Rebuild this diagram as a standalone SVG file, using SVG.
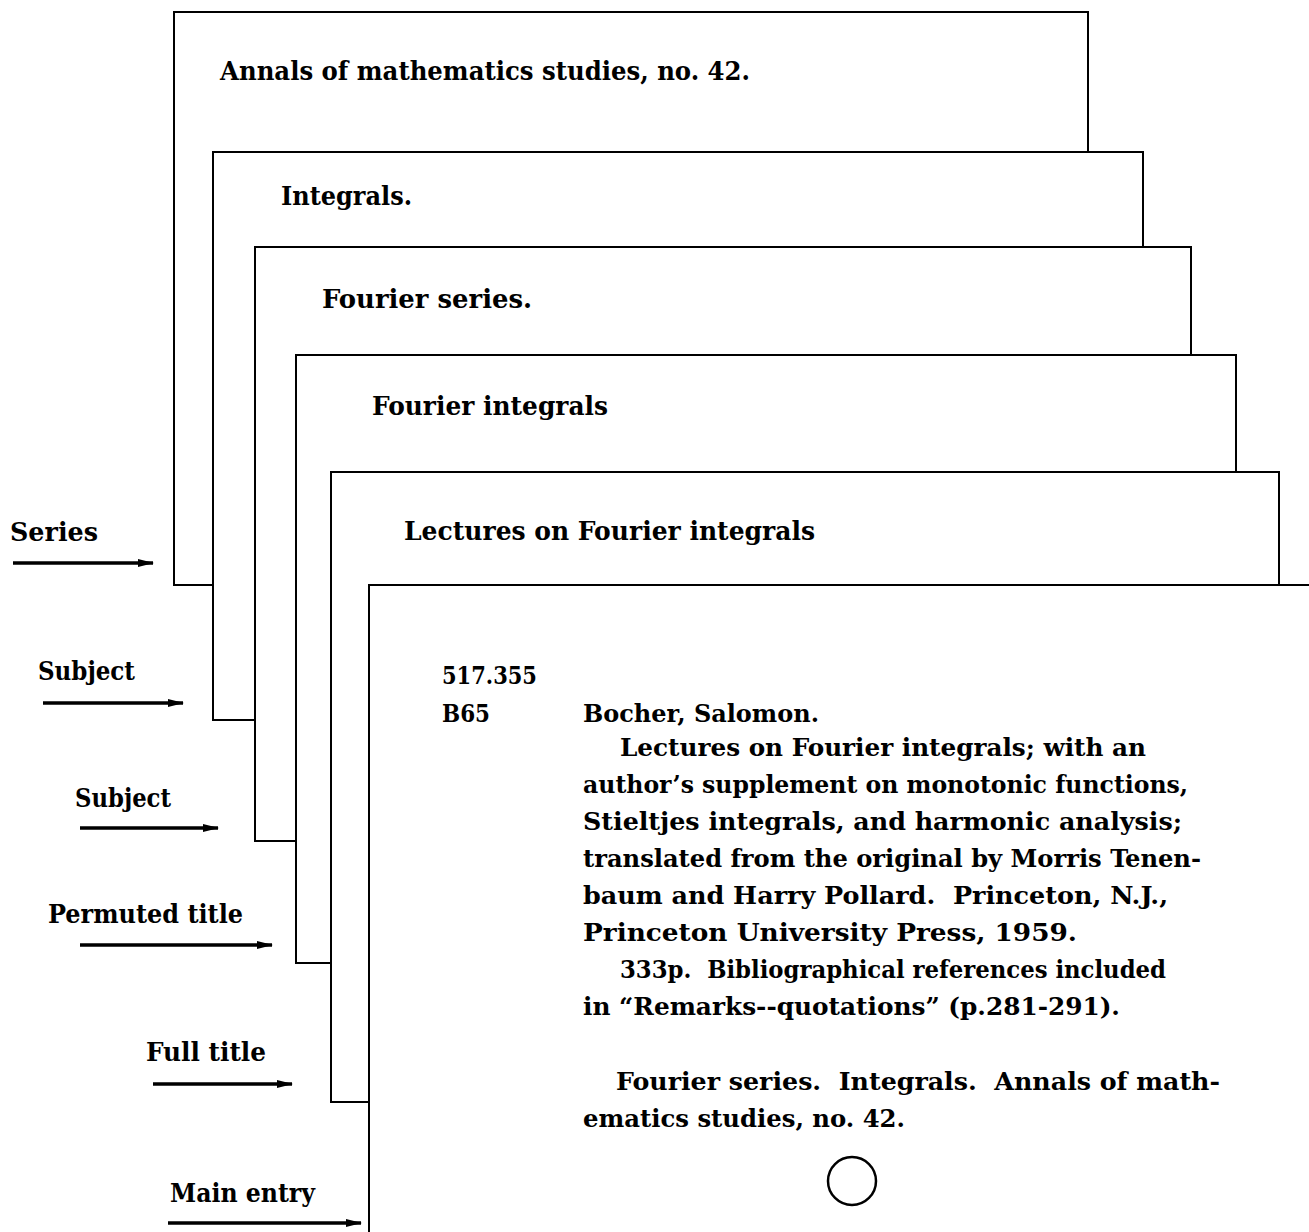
<svg xmlns="http://www.w3.org/2000/svg" width="1309" height="1232" viewBox="0 0 1309 1232">
<defs>
<marker id="ah" markerWidth="16" markerHeight="10" refX="15" refY="5" orient="auto" markerUnits="userSpaceOnUse">
<path d="M0,1 L16,5 L0,9 Z" fill="#000"/>
</marker>
<style>
.card{fill:#fff;stroke:#000;stroke-width:2}
.t{font-family:"DejaVu Serif Condensed","DejaVu Serif","Liberation Serif",serif;font-size:26px;fill:#000}
.h{font-weight:bold}
.b{font-weight:bold;font-size:25px}
.lbl{font-family:"DejaVu Serif Condensed","DejaVu Serif","Liberation Serif",serif;font-size:26px;font-weight:bold;fill:#000}
.arr{stroke:#000;stroke-width:3.5;fill:none;marker-end:url(#ah)}
</style>
</defs>
<rect width="1309" height="1232" fill="#fff"/>
<g id="card-series">
<rect class="card" x="174" y="12" width="914" height="573"/>
<text class="t h" x="220" y="80" textLength="530" lengthAdjust="spacingAndGlyphs">Annals of mathematics studies, no. 42.</text>
</g>
<g id="card-subject-integrals">
<rect class="card" x="213" y="152" width="930" height="568"/>
<text class="t h" x="281" y="205" textLength="131" lengthAdjust="spacingAndGlyphs">Integrals.</text>
</g>
<g id="card-subject-fourier-series">
<rect class="card" x="255" y="247" width="936" height="594"/>
<text class="t h" x="322" y="308" textLength="210" lengthAdjust="spacingAndGlyphs">Fourier series.</text>
</g>
<g id="card-permuted-title">
<rect class="card" x="296" y="355" width="940" height="608"/>
<text class="t h" x="372" y="415" textLength="236" lengthAdjust="spacingAndGlyphs">Fourier integrals</text>
</g>
<g id="card-full-title">
<rect class="card" x="331" y="472" width="948" height="630"/>
<text class="t h" x="404" y="540" textLength="411" lengthAdjust="spacingAndGlyphs">Lectures on Fourier integrals</text>
</g>
<g id="card-main-entry">
<rect class="card" x="369" y="585" width="960" height="660"/>
<text class="t b" x="442" y="684" textLength="95" lengthAdjust="spacingAndGlyphs">517.355</text>
<text class="t b" x="442" y="722" textLength="48" lengthAdjust="spacingAndGlyphs">B65</text>
<text class="t b" x="583" y="722" textLength="236" lengthAdjust="spacingAndGlyphs">Bocher, Salomon.</text>
<text class="t b" x="620" y="756" textLength="526" lengthAdjust="spacingAndGlyphs">Lectures on Fourier integrals; with an</text>
<text class="t b" x="583" y="793" textLength="605" lengthAdjust="spacingAndGlyphs">author’s supplement on monotonic functions,</text>
<text class="t b" x="583" y="830" textLength="599" lengthAdjust="spacingAndGlyphs">Stieltjes integrals, and harmonic analysis;</text>
<text class="t b" x="583" y="867" textLength="618" lengthAdjust="spacingAndGlyphs">translated from the original by Morris Tenen-</text>
<text class="t b" x="583" y="904" textLength="585" lengthAdjust="spacingAndGlyphs" xml:space="preserve">baum and Harry Pollard.  Princeton, N.J.,</text>
<text class="t b" x="583" y="941" textLength="494" lengthAdjust="spacingAndGlyphs">Princeton University Press, 1959.</text>
<text class="t b" x="620" y="978" textLength="546" lengthAdjust="spacingAndGlyphs" xml:space="preserve">333p.  Bibliographical references included</text>
<text class="t b" x="583" y="1015" textLength="537" lengthAdjust="spacingAndGlyphs">in “Remarks--quotations” (p.281-291).</text>
<text class="t b" x="616" y="1090" textLength="604" lengthAdjust="spacingAndGlyphs" xml:space="preserve">Fourier series.  Integrals.  Annals of math-</text>
<text class="t b" x="583" y="1127" textLength="322" lengthAdjust="spacingAndGlyphs">ematics studies, no. 42.</text>
<circle cx="852" cy="1181" r="24" fill="none" stroke="#000" stroke-width="2.5"/>
</g>
<g id="labels">
<text class="lbl" x="10" y="541" textLength="88" lengthAdjust="spacingAndGlyphs">Series</text>
<text class="lbl" x="38" y="680" textLength="97" lengthAdjust="spacingAndGlyphs">Subject</text>
<text class="lbl" x="75" y="807" textLength="96" lengthAdjust="spacingAndGlyphs">Subject</text>
<text class="lbl" x="48" y="923" textLength="195" lengthAdjust="spacingAndGlyphs">Permuted title</text>
<text class="lbl" x="146" y="1061" textLength="120" lengthAdjust="spacingAndGlyphs">Full title</text>
<text class="lbl" x="170" y="1202" textLength="145" lengthAdjust="spacingAndGlyphs">Main entry</text>
</g>
<g id="connectors">
<line class="arr" x1="13" y1="563" x2="153" y2="563"/>
<line class="arr" x1="43" y1="703" x2="183" y2="703"/>
<line class="arr" x1="80" y1="828" x2="218" y2="828"/>
<line class="arr" x1="80" y1="945" x2="272" y2="945"/>
<line class="arr" x1="153" y1="1084" x2="292" y2="1084"/>
<line class="arr" x1="168" y1="1223" x2="361" y2="1223"/>
</g>
</svg>
